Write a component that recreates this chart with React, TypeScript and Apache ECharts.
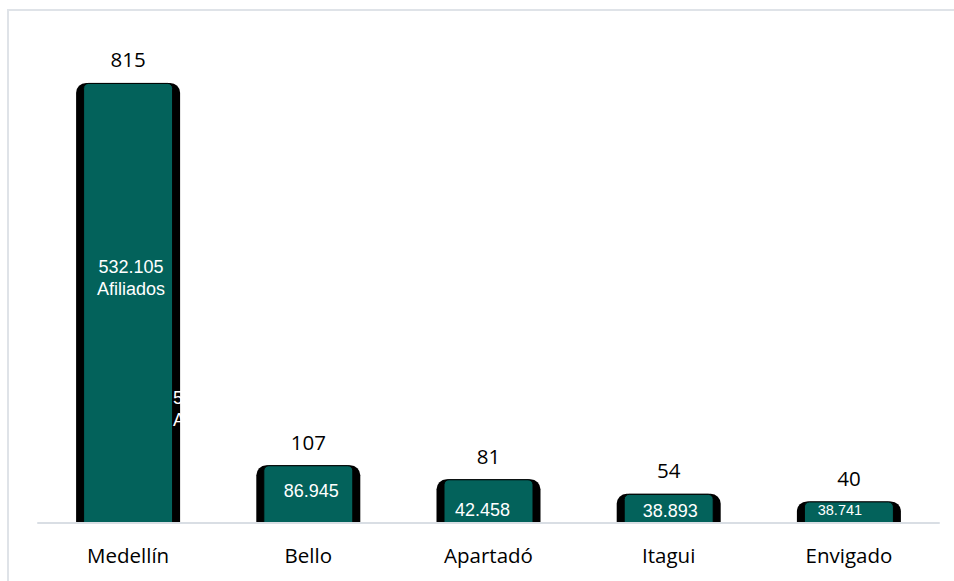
import React, { useEffect, useRef } from "react";
import * as echarts from "echarts";

const categories = ["Medellín", "Bello", "Apartadó", "Itagui", "Envigado"];
const values = [815, 107, 81, 54, 40];
const affiliates = ["532.105", "86.945", "42.458", "38.893", "38.741"];
const affiliateUnit = ["Afiliados", "", "", "", ""];

// label layout (not data)
const insideOffsets = [
  [3, -25],
  [3, -3.5],
  [-6, 8.5],
  [1.5, 2.5],
  [-9, -2],
];
const insideFontSize = [18, 18, 18, 18, 14.5];

const labelText = (i: number) =>
  affiliateUnit[i] ? `${affiliates[i]}\n${affiliateUnit[i]}` : affiliates[i];

export default function App() {
  const ref = useRef<HTMLDivElement>(null);
  useEffect(() => {
    if (!ref.current) return;
    const chart = echarts.init(ref.current, null, { renderer: "svg" });
    const teal = "#03625b";
    chart.setOption({
      animation: false,
      backgroundColor: "#ffffff",
      grid: { left: 38, right: 15, top: 37, bottom: 58 },
      graphic: [
        {
          type: "rect",
          silent: true,
          z: -10,
          shape: { x: 8, y: 10, width: 2000, height: 2000 },
          style: { fill: "none", stroke: "#dfe3e8", lineWidth: 2 },
        },
      ],
      xAxis: [
        {
          type: "category",
          data: categories,
          axisLine: { lineStyle: { color: "#d9dee4", width: 2 } },
          axisTick: { show: false },
          axisLabel: {
            fontFamily: "Open Sans",
            fontSize: 20.5,
            color: "#000",
            margin: 21,
          },
          z: 10,
        },
        { type: "category", data: categories, show: false },
        { type: "category", data: categories, show: false },
      ],
      yAxis: {
        type: "value",
        min: 0,
        max: 900,
        show: false,
        splitLine: { show: false },
      },
      series: [
        {
          name: "frame",
          type: "bar",
          xAxisIndex: 0,
          barWidth: 104,
          data: values,
          z: 2,
          itemStyle: { color: "#000", borderRadius: [10, 10, 0, 0] },
          label: {
            show: true,
            position: "top",
            distance: 13,
            fontFamily: "Open Sans",
            fontSize: 20.5,
            color: "#000",
          },
        },
        {
          name: "Afiliados",
          type: "bar",
          xAxisIndex: 1,
          barWidth: 90,
          z: 3,
          data: values.map((v, i) => ({
            value: v,
            label: { offset: insideOffsets[i], fontSize: insideFontSize[i] },
          })),
          itemStyle: {
            color: teal,
            borderColor: "#000",
            borderWidth: 1,
            borderRadius: [5, 5, 0, 0],
          },
          label: {
            show: true,
            position: "inside",
            color: "#fff",
            fontFamily: "Liberation Sans",
            fontSize: 18,
            lineHeight: 22,
            formatter: (p: any) => labelText(p.dataIndex),
          },
        },
        {
          name: "ghost",
          type: "bar",
          xAxisIndex: 2,
          barWidth: 90,
          z: 4,
          silent: true,
          data: values.map((v, i) => ({
            value: v,
            label: { show: i === 0 },
          })),
          itemStyle: { color: "rgba(0,0,0,0)" },
          label: {
            show: false,
            position: "inside",
            align: "left",
            offset: [45, 106],
            color: "#fff",
            fontFamily: "Liberation Sans",
            fontSize: 18,
            lineHeight: 22,
            formatter: (p: any) => labelText(p.dataIndex),
          },
        },
      ],
    });
    return () => chart.dispose();
  }, []);
  return (
    <div
      ref={ref}
      style={{ position: "fixed", left: 0, top: 0, width: 954, height: 581 }}
    />
  );
}
